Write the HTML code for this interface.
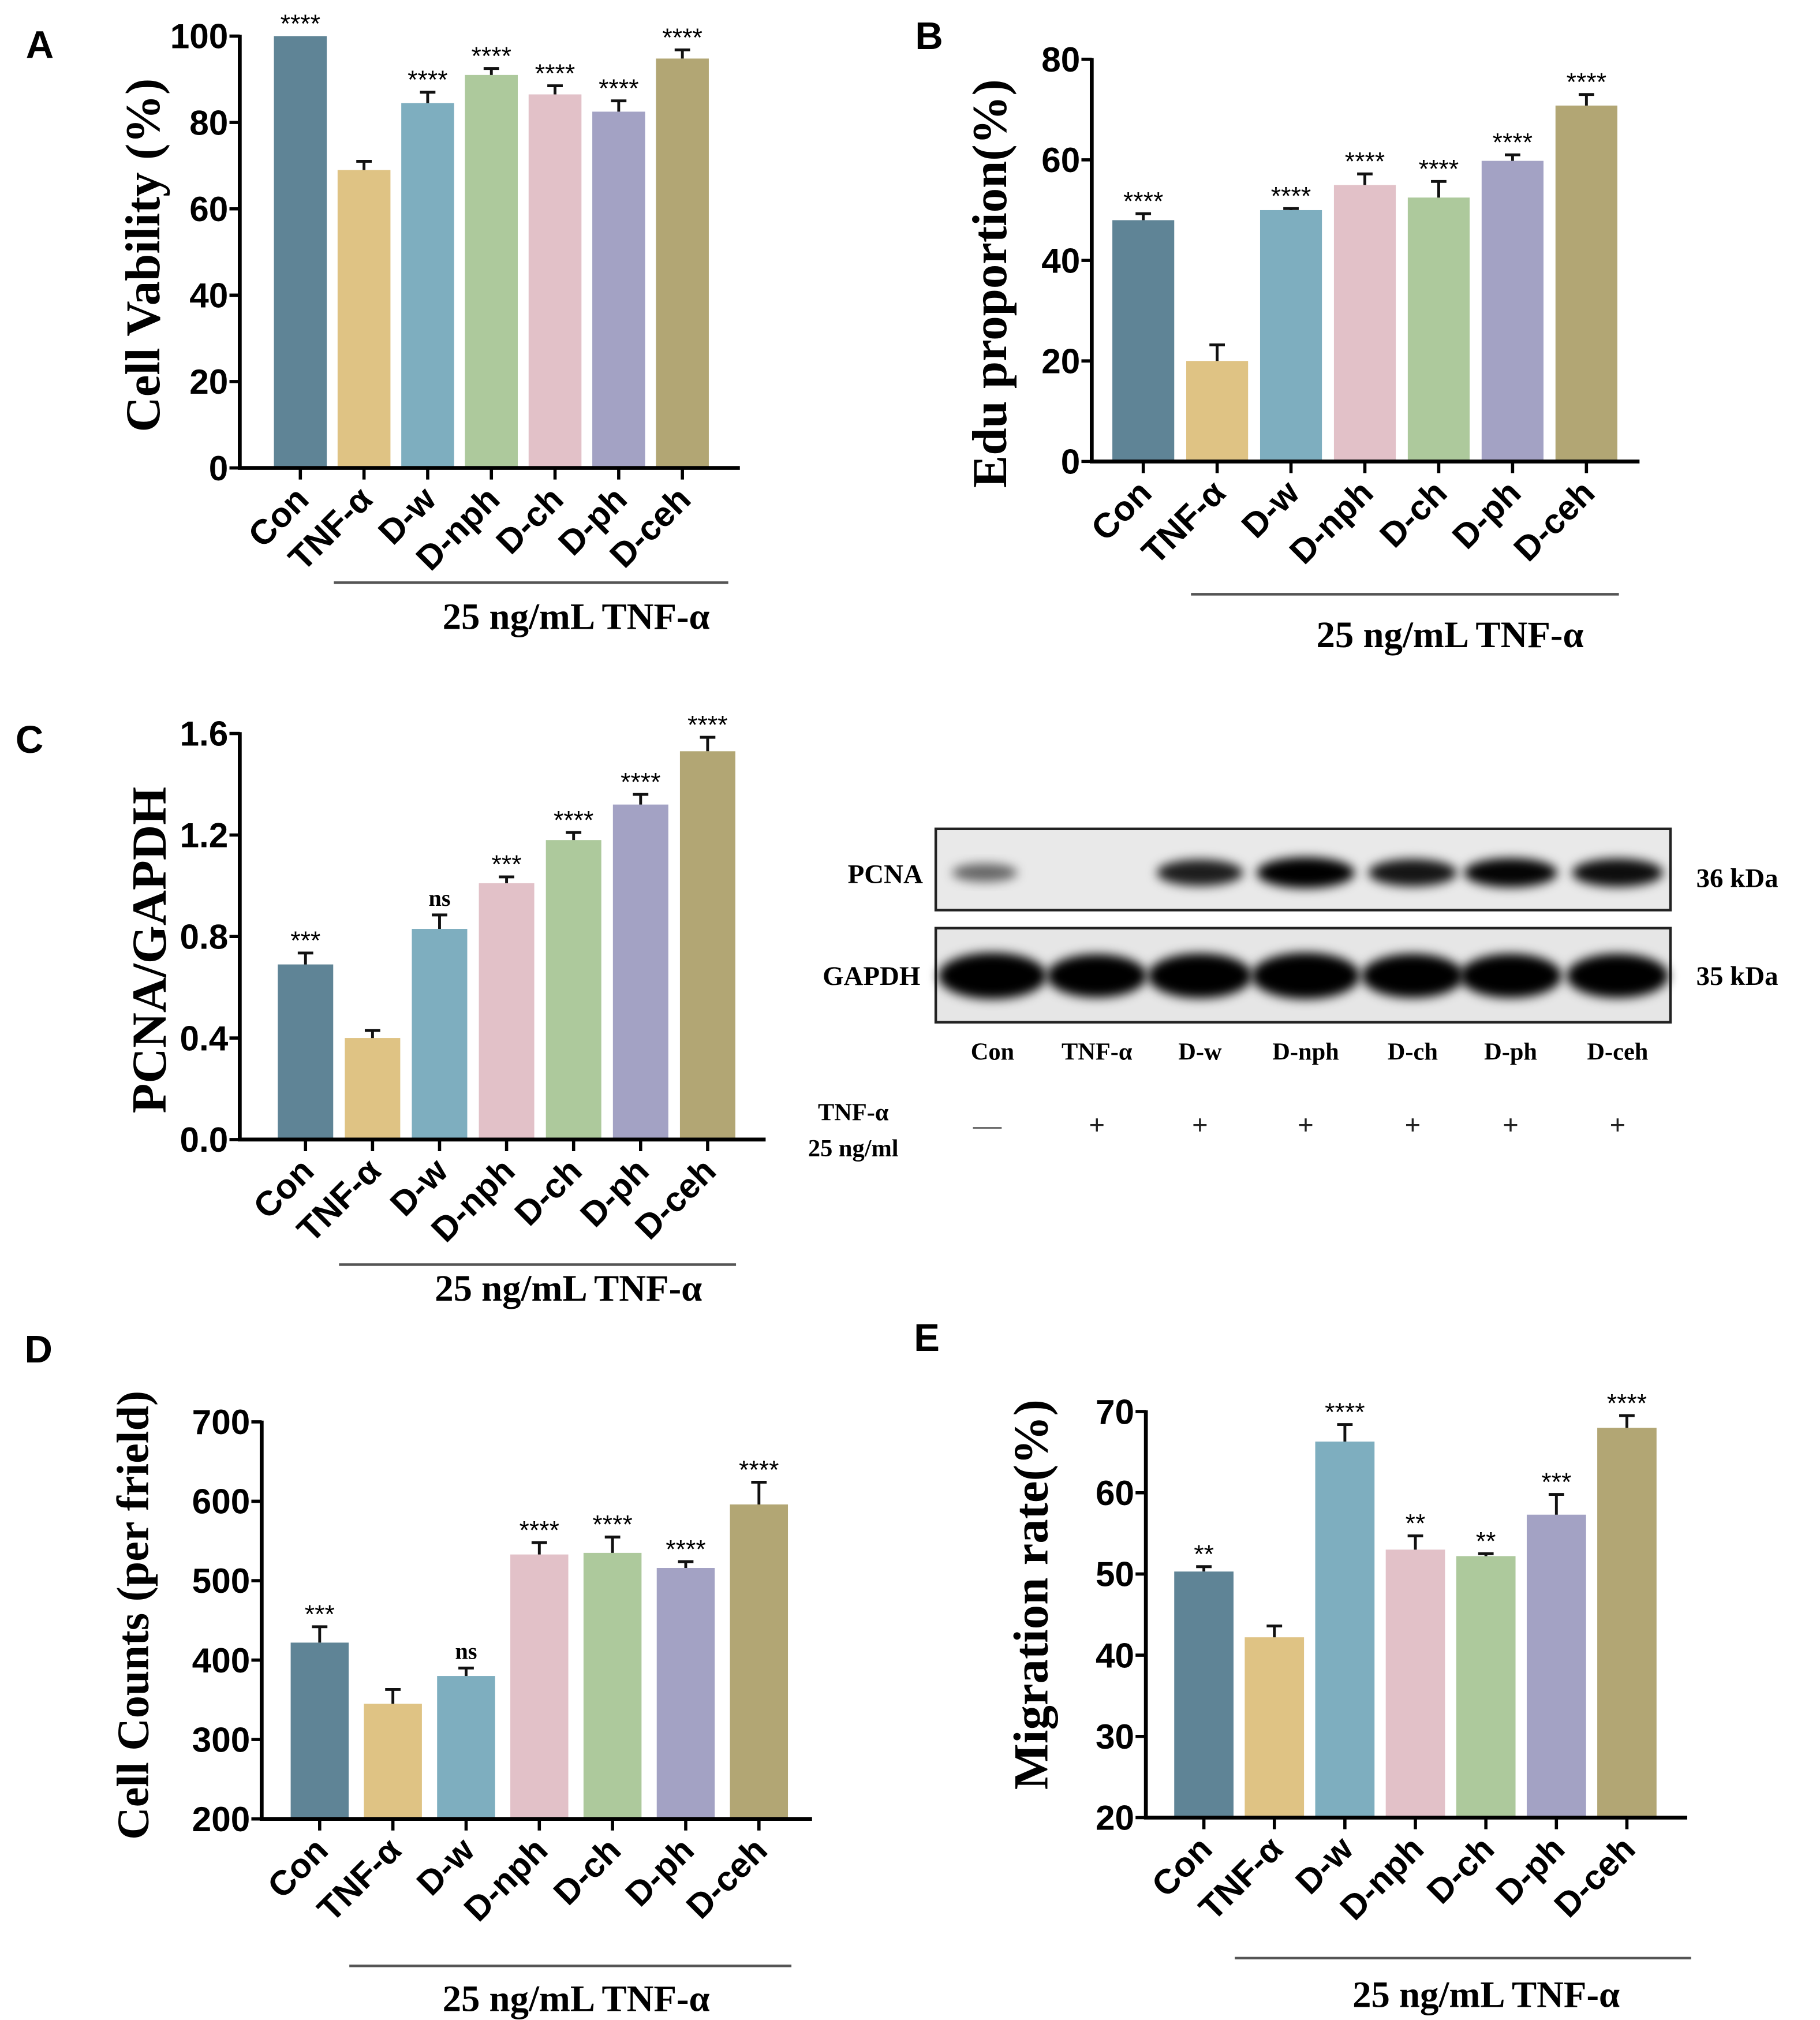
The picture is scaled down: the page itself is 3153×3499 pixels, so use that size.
<!DOCTYPE html>
<html><head><meta charset="utf-8">
<style>
html,body{margin:0;padding:0;background:#fff;}
svg{display:block;}
.tick{font-family:"Liberation Sans",sans-serif;font-weight:bold;font-size:27px;}
.cat{font-family:"Liberation Sans",sans-serif;font-weight:bold;font-size:27px;}
.ttl{font-family:"Liberation Serif",serif;font-weight:bold;font-size:38px;}
.sub{font-family:"Liberation Serif",serif;font-weight:bold;font-size:29px;}
.star{font-family:"Liberation Sans",sans-serif;font-size:20px;}
.ns{font-family:"Liberation Serif",serif;font-weight:bold;font-size:18px;}
.plab{font-family:"Liberation Sans",sans-serif;font-weight:bold;font-size:30px;}
.wb{font-family:"Liberation Serif",serif;font-weight:bold;font-size:21px;}
</style></head>
<body>
<svg id="fig" width="3153" height="3499" viewBox="0 0 1412 1567" xmlns="http://www.w3.org/2000/svg">
<defs>
<filter id="blur" x="-50%" y="-50%" width="200%" height="200%"><feGaussianBlur stdDeviation="4"/></filter>
</defs>
<text class="plab" x="20" y="45">A</text>
<text class="plab" x="710" y="38">B</text>
<text class="plab" x="12" y="584">C</text>
<text class="plab" x="19" y="1057">D</text>
<text class="plab" x="709" y="1048">E</text>

<g>
  <rect x="726" y="643" width="570" height="63" fill="#e9e9e9" stroke="#222" stroke-width="2"/>
  <rect x="726" y="720" width="570" height="73" fill="#e6e6e6" stroke="#222" stroke-width="2"/>
  <g id="bands"></g>
  <text class="wb" x="716" y="685" text-anchor="end">PCNA</text>
  <text class="wb" x="714" y="764" text-anchor="end">GAPDH</text>
  <text class="wb" x="1316" y="688">36 kDa</text>
  <text class="wb" x="1316" y="764">35 kDa</text>
  <text class="wb" x="662" y="869" text-anchor="middle" style="font-size:19px">TNF-α</text>
  <text class="wb" x="662" y="897" text-anchor="middle" style="font-size:19px">25 ng/ml</text>
  <g id="lanes"></g>
</g>
<g id="charts"></g>
</svg>
<script>
const NS="http://www.w3.org/2000/svg";
function mk(tag,attrs,parent){const e=document.createElementNS(NS,tag);for(const k in attrs)e.setAttribute(k,attrs[k]);parent.appendChild(e);return e;}

// ---- data ----
const categories=["Con","TNF-α","D-w","D-nph","D-ch","D-ph","D-ceh"];
const aValues=[100,69,84.5,91,86.5,82.5,94.8];
const aErrors=[0,2,2.5,1.5,2,2.5,2];
const aSig=["****","","****","****","****","****","****"];
const aTicks=[0,20,40,60,80,100];
const bValues=[48,20,50,55,52.5,59.8,70.8];
const bErrors=[1.3,3.2,0.3,2.2,3.2,1.2,2.2];
const bSig=["****","","****","****","****","****","****"];
const bTicks=[0,20,40,60,80];
const cValues=[0.69,0.40,0.83,1.01,1.18,1.32,1.53];
const cErrors=[0.045,0.03,0.055,0.025,0.03,0.04,0.055];
const cSig=["***","","ns","***","****","****","****"];
const cTicks=["0.0","0.4","0.8","1.2","1.6"];
const dValues=[422,345,380,533,535,516,596];
const dErrors=[20,18,10,15,20,8,28];
const dSig=["***","","ns","****","****","****","****"];
const dTicks=[200,300,400,500,600,700];
const eValues=[50.3,42.2,66.3,53,52.2,57.3,68];
const eErrors=[0.6,1.4,2.1,1.7,0.3,2.5,1.5];
const eSig=["**","","****","**","**","***","****"];
const eTicks=[20,30,40,50,60,70];
const pcnaBand=[0.3,0.04,0.75,1.0,0.8,0.9,0.85];
const gapdhBand=[1.0,0.8,0.9,1.0,0.85,0.85,0.85];
const wbSigns=["—","+","+","+","+","+","+"];

const colStd=["#5f8496","#dfc384","#7eaebf","#e2c1c8","#adc99c","#a3a2c4","#b2a674"];
const colA=["#5f8496","#dfc384","#7eaebf","#adc99c","#e2c1c8","#a3a2c4","#b2a674"];

function chart(id,o){
  const g=mk('g',{},document.getElementById('charts'));
  
  
  const ymin=+o.ticks[0], ymax=+o.ticks[o.ticks.length-1];
  const yS=v=>o.y0+(v-ymin)/(ymax-ymin)*(o.y1-o.y0);
  const xS=i=>o.c0+i*o.step;
  o.values.forEach((v,i)=>{
    const r=mk('rect',{x:xS(i)-o.bw/2,y:yS(v),width:o.bw,height:o.y0-yS(v),fill:o.colors[i]},g);
    
    
    const e=o.errors[i];
    if(e>0){
      const eb=mk('path',{d:`M${xS(i)} ${yS(v)}V${yS(v+e)}M${xS(i)-6} ${yS(v+e)}H${xS(i)+6}`,stroke:'#111','stroke-width':2.2,fill:'none'},g);
      
      
    }
    const s=o.sig[i];
    if(s){
      const t=mk('text',{x:xS(i),y:yS(v+e)-(s==='ns'?7:3),'text-anchor':'middle',class:s==='ns'?'ns':'star'},g);
      t.textContent=s;
      
      
    }
    const tk=mk('line',{x1:xS(i),x2:xS(i),y1:o.y0,y2:o.y0+9,stroke:'#000','stroke-width':2.5},g);
    
    
    const lx=xS(i)+8, ly=o.y0+26;
    const ct=mk('text',{x:lx,y:ly,'text-anchor':'end',class:'cat',transform:`rotate(-45 ${lx} ${ly})`},g);
    ct.textContent=categories[i];
    
    
  });
  const ax=mk('path',{d:`M${o.ax} ${o.y1-1}V${o.y0}H${o.axEnd}`,stroke:'#000','stroke-width':3,fill:'none'},g);
  
  
  o.ticks.forEach(t=>{
    const y=yS(+t);
    const l=mk('line',{x1:o.ax-8,x2:o.ax,y1:y,y2:y,stroke:'#000','stroke-width':2.5},g);
    
    
    const tx=mk('text',{x:o.ax-9,y:y+9.5,'text-anchor':'end',class:'tick'},g);
    tx.textContent=t;
    
    
  });
  const tt=mk('text',{x:o.tx,y:o.ty,'text-anchor':'middle','dominant-baseline':'central',class:'ttl',transform:`rotate(-90 ${o.tx} ${o.ty})`},g);
  if(o.tfs) tt.setAttribute('style','font-size:'+o.tfs+'px');
  tt.textContent=o.title;
  
  
  const ul=mk('line',{x1:o.ul[0],x2:o.ul[1],y1:o.ul[2],y2:o.ul[2],stroke:'#555','stroke-width':2},g);
  
  
  const sb=mk('text',{x:o.sub[0],y:o.sub[1],'text-anchor':'middle',class:'sub'},g);
  sb.textContent='25 ng/mL TNF-α';
  
  
}

chart('chart-a-cell-viability',{values:aValues,errors:aErrors,sig:aSig,ticks:aTicks,colors:colA,
  y0:363,y1:28,ax:186,axEnd:574,c0:233,step:49.4,bw:41,title:'Cell Vability (%)',tx:111,ty:198,
  ul:[259,565,452],sub:[447,488]});
chart('chart-b-edu',{values:bValues,errors:bErrors,sig:bSig,ticks:bTicks,colors:colStd,
  y0:358,y1:46,ax:847,axEnd:1272,c0:887,step:57.3,bw:48,title:'Edu proportion(%)',tx:768,ty:220,
  ul:[924,1256,461],sub:[1125,502]});
chart('chart-c-pcna',{values:cValues,errors:cErrors,sig:cSig,ticks:cTicks,colors:colStd,
  y0:884,y1:569,ax:186,axEnd:594,c0:237,step:52,bw:43,title:'PCNA/GAPDH',tx:116,ty:737,
  ul:[263,571,981],sub:[441,1009]});
chart('chart-d-cell-counts',{values:dValues,errors:dErrors,sig:dSig,ticks:dTicks,colors:colStd,
  y0:1411,y1:1103,ax:203,axEnd:630,c0:248,step:56.8,bw:45,title:'Cell Counts (per frield)',tx:103,ty:1253,tfs:35,
  ul:[271,614,1525],sub:[447,1560]});
chart('chart-e-migration',{values:eValues,errors:eErrors,sig:eSig,ticks:eTicks,colors:colStd,
  y0:1410,y1:1095,ax:889,axEnd:1309,c0:934,step:54.7,bw:46,title:'Migration rate(%)',tx:800,ty:1237,
  ul:[958,1312,1519],sub:[1153,1557]});

const laneX=[770,851,931,1013,1096,1172,1255];
const bandsG=document.getElementById('bands'), lanesG=document.getElementById('lanes');
pcnaBand.forEach((v,i)=>{
  if(v<0.05)return;
  const e=mk('ellipse',{cx:laneX[i]-(i===0?6:0),cy:677,rx:20+18*v,ry:5+7*v,fill:'#000','fill-opacity':Math.min(1,0.35+0.7*v),filter:'url(#blur)'},bandsG);
  
  
});
gapdhBand.forEach((v,i)=>{
  const e=mk('ellipse',{cx:laneX[i],cy:757,rx:26+16*v,ry:12+6*v,fill:'#000','fill-opacity':1,filter:'url(#blur)'},bandsG);
  
  
});
categories.forEach((c,i)=>{
  const t=mk('text',{x:laneX[i],y:822,'text-anchor':'middle',class:'wb',style:'font-size:19px'},lanesG);
  t.textContent=c;
  
  
  const s=mk('text',{x:laneX[i]-(i===0?4:0),y:880,'text-anchor':'middle',class:'wb',style:'font-size:22px;font-weight:bold',fill:i===0?'#666':'#222'},lanesG);
  s.textContent=wbSigns[i];
  
  
});
</script>
</body></html>
